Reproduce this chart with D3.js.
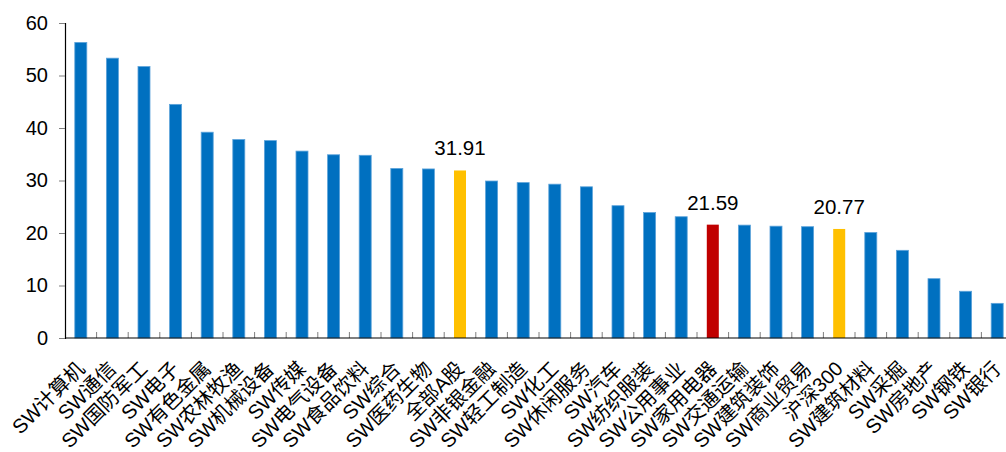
<!DOCTYPE html>
<html>
<head>
<meta charset="utf-8">
<script src="https://cdn.jsdelivr.net/npm/d3@7"></script>
<style>
  body { margin: 0; background: #fff; }
  svg text { font-family: "Liberation Sans", Arial, "Noto Sans CJK SC", sans-serif; fill: #000; }
</style>
</head>
<body>
<div id="chart"></div>
<script>
// categories and PE values
const categories = ["SW计算机", "SW通信", "SW国防军工", "SW电子", "SW有色金属", "SW农林牧渔", "SW机械设备", "SW传媒",
  "SW电气设备", "SW食品饮料", "SW综合", "SW医药生物", "全部A股", "SW非银金融", "SW轻工制造", "SW化工",
  "SW休闲服务", "SW汽车", "SW纺织服装", "SW公用事业", "SW家用电器", "SW交通运输", "SW建筑装饰",
  "SW商业贸易", "沪深300", "SW建筑材料", "SW采掘", "SW房地产", "SW钢铁", "SW银行"]
const values = [56.3, 53.3, 51.7, 44.5, 39.2, 37.8, 37.6, 35.6, 34.9, 34.8, 32.3, 32.2, 31.91, 29.9, 29.6, 29.3,
  28.8, 25.2, 23.9, 23.1, 21.59, 21.5, 21.3, 21.2, 20.77, 20.1, 16.7, 11.3, 8.9, 6.6]
const highlightYellow = ["全部A股", "沪深300"]
const highlightRed = ["SW家用电器"]
const labelled = ["全部A股", "SW家用电器", "沪深300"]
const yTicks = [0, 10, 20, 30, 40, 50, 60]

const width = 1006, height = 452
const left = 65, zeroY = 338, topY = 23
const bandW = 31.6

svg = d3.select("#chart").append("svg")
  .attr("width", width)
  .attr("height", height)

x = d3.scaleBand()
  .domain(categories)
  .range([left, left + bandW * categories.length])
  .paddingInner(0.62)
  .paddingOuter(0.31)

y = d3.scaleLinear().domain([0, 60]).range([zeroY, topY])

function barColor(c){
  if(highlightYellow.includes(c)) return "#FFC000"
  if(highlightRed.includes(c)) return "#C00000"
  return "#0070C0"
}

// bars
svg.append("g").selectAll("rect")
  .data(categories)
  .join("rect")
  .attr("x", c => x(c))
  .attr("width", x.bandwidth())
  .attr("y", (c, i) => y(values[i]))
  .attr("height", (c, i) => y(0) - y(values[i]))
  .attr("fill", c => barColor(c))
  .attr("stroke", c => barColor(c) == "#0070C0" ? "#5DA3DA" : "none")
  .attr("stroke-width", 0.8)

// value labels
svg.append("g").selectAll("text")
  .data(categories.filter(c => labelled.includes(c)))
  .join("text")
  .attr("x", c => x(c) + x.bandwidth() / 2)
  .attr("y", c => y(values[categories.indexOf(c)]) - 15)
  .attr("text-anchor", "middle")
  .style("font-size", "20.5px")
  .text(c => values[categories.indexOf(c)].toFixed(2))

// y axis
yAxis = svg.append("g")
  .attr("transform", `translate(${left},0)`)
  .call(d3.axisLeft(y).tickValues(yTicks).tickSize(6).tickPadding(11))
yAxis.select(".domain").attr("stroke", "#000").attr("stroke-width", 1.2)
yAxis.selectAll(".tick line").attr("stroke", "#7f7f7f")
yAxis.selectAll("text").style("font-size", "20px").attr("fill", "#000")

// x axis: ticks between bands pointing up
boundaries = d3.range(categories.length + 1).map(i => left + i * bandW)
svg.append("g").selectAll("line")
  .data(boundaries.slice(1))
  .join("line")
  .attr("x1", d => d).attr("x2", d => d)
  .attr("y1", zeroY).attr("y2", zeroY - 6)
  .attr("stroke", "#7f7f7f")
svg.append("line")
  .attr("x1", left).attr("x2", width)
  .attr("y1", zeroY).attr("y2", zeroY)
  .attr("stroke", "#000").attr("stroke-width", 1.2)

// category labels
svg.append("g").selectAll("text")
  .data(categories)
  .join("text")
  .attr("transform", c => `translate(${x(c) + x.bandwidth() / 2 + 5},${zeroY + 32}) rotate(-45)`)
  .attr("text-anchor", "end")
  .style("font-size", "20px")
  .text(c => c)
</script>
</body>
</html>
